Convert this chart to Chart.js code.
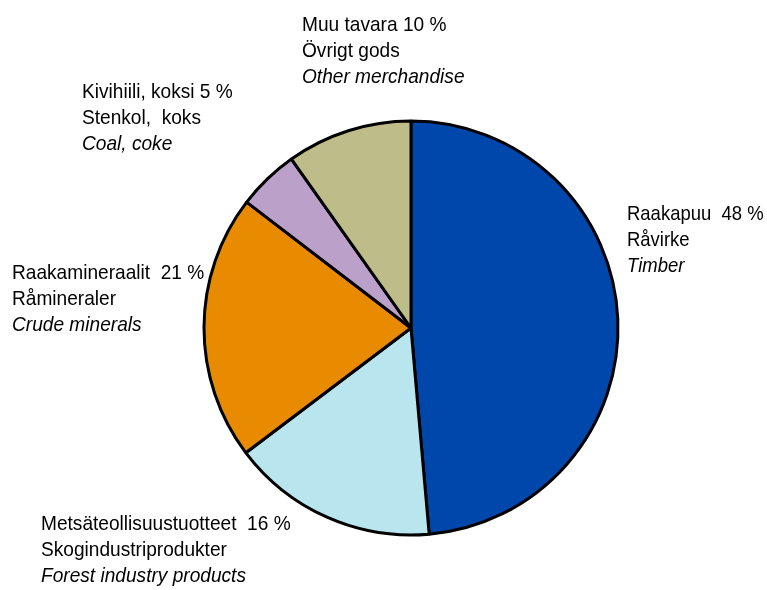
<!DOCTYPE html>
<html>
<head>
<meta charset="utf-8">
<script src="https://cdn.jsdelivr.net/npm/chart.js@4/dist/chart.umd.min.js"></script>
<style>
  html, body { margin: 0; padding: 0; background: #fff; }
  #wrap { width: 767px; height: 590px; }
</style>
</head>
<body>
<div id="wrap"><canvas id="pie" width="767" height="590"></canvas></div>
<script>
// data (clockwise from 12 o'clock)
var nimetFi = ["Raakapuu", "Metsäteollisuustuotteet", "Raakamineraalit", "Kivihiili, koksi", "Muu tavara"];
var nimetSv = ["Råvirke", "Skogindustriprodukter", "Råmineraler", "Stenkol,  koks", "Övrigt gods"];
var nimetEn = ["Timber", "Forest industry products", "Crude minerals", "Coal, coke", "Other merchandise"];
var osuudet = [48.6, 16.1, 20.7, 4.8, 9.8];     // slice sizes as measured
var prosentit = [48, 16, 21, 5, 10];            // printed in the labels
var varit = ["#0047AB", "#B9E6EE", "#E88B00", "#BBA1CA", "#BEBC89"];

// where each label block sits (left x, first baseline)
var labelPos = [
    { x: 627, y: 220, gap: "  ", sx: 0.88 },
    { x: 41, y: 530, gap: "  ", sx: 0.91 },
    { x: 12, y: 279, gap: "  ", sx: 0.91 },
    { x: 82, y: 98, gap: " ", sx: 0.91 },
    { x: 302, y: 31, gap: " ", sx: 0.91 }
];

var labelPlugin = {
    id: "pieLabels",
    afterDraw: function (chart) {
        var ctx = chart.ctx;
        ctx.save();
        ctx.fillStyle = "#000";
        ctx.textBaseline = "alphabetic";
        ctx.textAlign = "left";
        for (var i = 0; i < osuudet.length; i++) {
            var p = labelPos[i];
            var rivit = [nimetFi[i] + p.gap + prosentit[i] + " %", nimetSv[i], nimetEn[i]];
            for (var r = 0; r < rivit.length; r++) {
                ctx.save();
                ctx.translate(p.x, p.y + r * 26);
                ctx.scale(p.sx, 1);
                ctx.font = (r === 2 ? "italic " : "") + "21px 'Liberation Sans', Arial, sans-serif";
                ctx.fillText(rivit[r], 0, 0);
                ctx.restore();
            }
        }
        ctx.restore();
    }
};

new Chart(document.getElementById("pie"), {
    type: "pie",
    data: {
        labels: nimetFi,
        datasets: [{
            data: osuudet,
            backgroundColor: varit,
            borderColor: "#000",
            borderWidth: 3
        }]
    },
    options: {
        responsive: false,
        animation: false,
        radius: 207,
        layout: { padding: { left: 55, right: 0, top: 66, bottom: 0 } },
        plugins: {
            legend: { display: false },
            tooltip: { enabled: false }
        }
    },
    plugins: [labelPlugin]
});
</script>
</body>
</html>
